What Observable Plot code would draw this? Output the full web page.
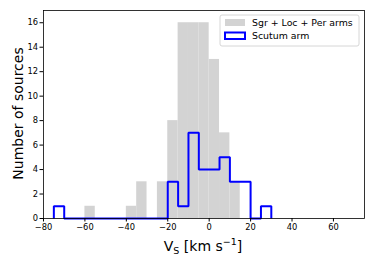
<!DOCTYPE html>
<html>
<head>
<meta charset="utf-8">
<script src="https://cdn.jsdelivr.net/npm/d3@7"></script>
<script src="https://cdn.jsdelivr.net/npm/@observablehq/plot@0.6"></script>
<style>
  html, body { margin: 0; padding: 0; background: #fff; }
  svg { font-family: "DejaVu Sans", sans-serif; }
</style>
</head>
<body>
<div id="chart"></div>
<script>
// Gray histogram (Sgr + Loc + Per arms): bin left edges and counts (bin width 5)
const grayBinStarts = [-60, -40, -35, -25, -20, -15, -10, -5, 0, 5, 10];
const grayCounts    = [1, 1, 3, 3, 8, 16, 16, 16, 13, 7, 3];
// Blue step histogram (Scutum arm): bin left edges and counts (bin width 5)
const blueBinStarts = [-75, -70, -65, -60, -55, -50, -45, -40, -35, -30, -25, -20, -15, -10, -5, 0, 5, 10, 15, 20, 25];
const blueCounts    = [1, 0, 0, 0, 0, 0, 0, 0, 0, 0, 0, 3, 1, 7, 4, 4, 5, 3, 3, 0, 1];
const binWidth = 5;
const xTicks = [-80, -60, -40, -20, 0, 20, 40, 60];
const yTicks = [0, 2, 4, 6, 8, 10, 12, 14, 16];
const legendLabels = ["Sgr + Loc + Per arms", "Scutum arm"];

const grayData = grayBinStarts.map((x, i) => ({x1: x, x2: x + binWidth, y: grayCounts[i]}));

// step outline points (step-after)
const stepPts = [{x: blueBinStarts[0], y: 0}];
blueBinStarts.forEach((x, i) => stepPts.push({x, y: blueCounts[i]}));
const lastEdge = blueBinStarts[blueBinStarts.length - 1] + binWidth;
stepPts.push({x: lastEdge, y: blueCounts[blueCounts.length - 1]});
stepPts.push({x: lastEdge, y: 0});

const plot = Plot.plot({
  width: 374,
  height: 261,
  marginLeft: 43,
  marginRight: 10,
  marginTop: 10,
  marginBottom: 43,
  style: {fontFamily: "DejaVu Sans, sans-serif", background: "#fff"},
  x: {domain: [-80, 75], label: null},
  y: {domain: [0, 17], label: null},
  marks: [
    Plot.rectY(grayData, {x1: "x1", x2: "x2", y: "y", fill: "#d3d3d3", inset: 0}),
    Plot.line(stepPts, {x: "x", y: "y", curve: "step-after", stroke: "#0000ff", strokeWidth: 2, strokeLinejoin: "miter", strokeLinecap: "butt"}),
    Plot.frame({stroke: "#000", strokeWidth: 0.8}),
    Plot.axisX({ticks: xTicks, tickSize: 3.5, tickPadding: 2, fontSize: 8.3, stroke: "#000", fill: "#000", label: null}),
    Plot.axisY({ticks: yTicks, tickSize: 3.5, tickPadding: 2, fontSize: 8.3, stroke: "#000", fill: "#000", label: null})
  ]
});

document.getElementById("chart").appendChild(plot);
const svg = d3.select(plot);

// Axis labels
const xl = svg.append("text")
  .attr("x", 203).attr("y", 251)
  .attr("text-anchor", "middle")
  .attr("font-size", 14).attr("fill", "#000");
xl.append("tspan").text("V");
xl.append("tspan").attr("font-size", 9.5).attr("dy", 3).text("S");
xl.append("tspan").attr("dy", -3).text(" [km s");
xl.append("tspan").attr("font-size", 9.5).attr("dy", -6).text("−1");
xl.append("tspan").attr("dy", 6).text("]");

svg.append("text")
  .attr("transform", "translate(22.5,113.5) rotate(-90)")
  .attr("text-anchor", "middle")
  .attr("font-size", 14).attr("fill", "#000")
  .text("Number of sources");

// Legend
const lg = svg.append("g").attr("text-anchor", "start");
lg.append("rect").attr("x", 220).attr("y", 15).attr("width", 139).attr("height", 31)
  .attr("rx", 2).attr("fill", "#fff").attr("fill-opacity", 0.8).attr("stroke", "#ccc").attr("stroke-width", 0.8);
lg.append("rect").attr("x", 225).attr("y", 19).attr("width", 20).attr("height", 7).attr("fill", "#d3d3d3");
lg.append("rect").attr("x", 225).attr("y", 32.5).attr("width", 20).attr("height", 6.5)
  .attr("fill", "none").attr("stroke", "#0000ff").attr("stroke-width", 2);
lg.append("text").attr("x", 252).attr("y", 22.5).attr("dy", "0.35em").attr("text-anchor", "start").attr("font-size", 9.4).attr("fill", "#000").text(legendLabels[0]);
lg.append("text").attr("x", 252).attr("y", 36).attr("dy", "0.35em").attr("text-anchor", "start").attr("font-size", 9.4).attr("fill", "#000").text(legendLabels[1]);
</script>
</body>
</html>
